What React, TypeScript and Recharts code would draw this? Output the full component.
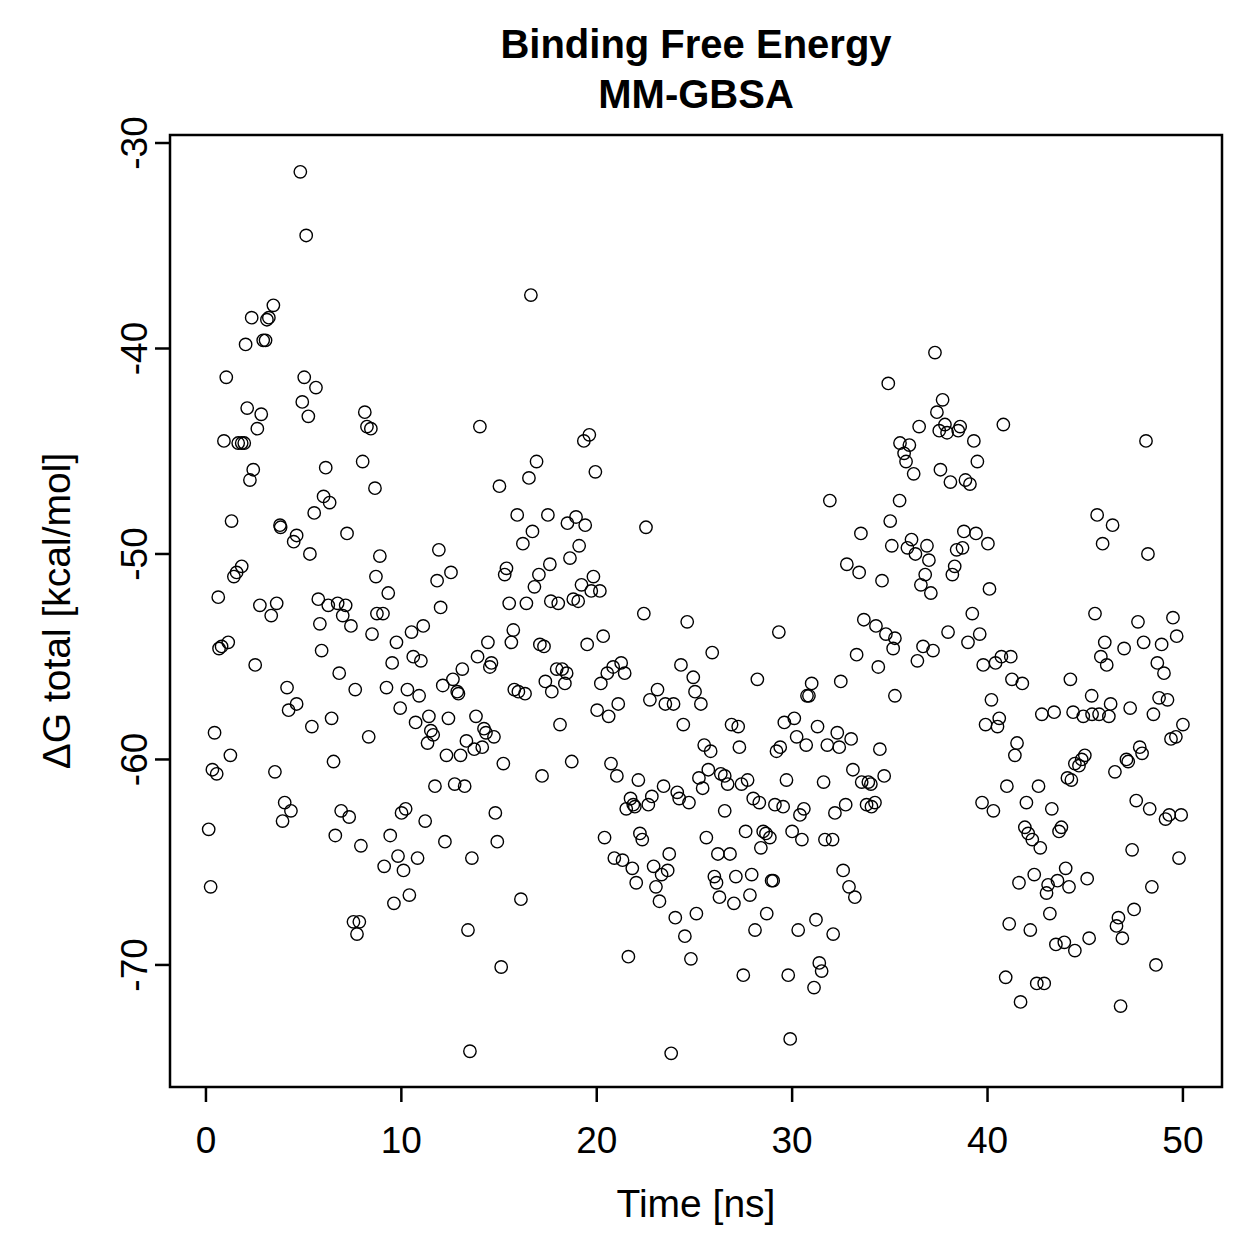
import React from 'react';
import { ScatterChart, Scatter, XAxis, YAxis, ReferenceArea } from 'recharts';

const timeNs = [
  0.14,0.24,0.33,0.44,0.55,0.63,0.67,0.80,0.92,1.04,1.14,1.25,1.31,1.43,1.57,1.65,1.83,1.83,1.96,2.03,
  2.11,2.25,2.34,2.42,2.52,2.63,2.76,2.83,2.93,3.05,3.12,3.22,3.34,3.45,3.53,3.62,3.79,3.82,3.92,4.03,
  4.15,4.23,4.35,4.49,4.64,4.64,4.83,4.93,5.03,5.13,5.24,5.32,5.42,5.54,5.63,5.75,5.83,5.92,6.02,6.13,
  6.26,6.33,6.43,6.53,6.62,6.74,6.82,6.92,7.00,7.15,7.22,7.33,7.42,7.55,7.64,7.73,7.85,7.93,8.02,8.13,
  8.24,8.33,8.44,8.50,8.65,8.70,8.75,8.90,9.06,
  9.12,9.24,9.33,9.43,9.53,9.62,9.75,9.83,9.94,10.01,10.11,10.22,10.31,10.41,10.52,10.61,10.73,10.83,10.91,11.00,
  11.12,11.22,11.34,11.41,11.51,11.63,11.72,11.83,11.92,12.01,12.12,12.23,12.31,12.41,12.54,12.64,12.73,12.86,12.92,13.03,
  13.12,13.24,13.33,13.41,13.51,13.61,13.73,13.82,13.90,14.02,14.14,14.23,14.33,14.43,14.53,14.61,14.74,14.81,14.91,15.02,
  15.11,15.22,15.29,15.38,15.52,15.63,15.73,15.78,15.93,15.99,16.12,16.22,16.33,16.40,16.53,16.63,16.71,16.81,16.92,17.04,
  17.09,17.20,17.30,17.37,17.50,17.60,17.70,17.65,
  17.95,18.03,18.12,18.23,18.37,18.46,18.50,18.63,18.72,18.80,18.94,19.05,19.10,19.22,19.34,19.41,19.51,19.62,19.72,19.83,
  19.93,20.02,20.16,20.21,20.33,20.40,20.54,20.61,20.73,20.84,20.90,21.03,21.10,21.25,21.32,21.43,21.51,21.62,21.73,21.82,
  21.87,21.95,22.02,22.13,22.21,22.33,22.41,22.52,22.64,22.72,22.82,22.91,23.03,23.11,23.21,23.32,23.42,23.51,23.63,23.71,
  23.81,23.93,24.02,24.12,24.22,24.31,24.43,24.51,24.63,24.72,24.82,24.94,25.03,25.10,25.23,25.33,25.42,25.50,25.61,25.71,
  25.83,25.91,26.02,26.13,26.20,26.28,26.35,26.55,26.70,26.55,26.82,26.90,27.02,27.12,27.24,27.30,27.41,27.50,27.62,27.72,
  27.84,27.93,28.01,28.10,28.22,28.32,28.40,28.52,28.66,28.70,28.86,28.95,29.03,29.12,29.20,29.32,29.39,29.54,29.60,29.71,
  29.80,29.90,30.00,30.11,30.23,30.31,30.40,30.50,30.60,30.72,30.76,30.86,31.00,31.12,31.22,31.30,31.39,31.51,31.61,31.68,
  31.80,31.93,32.07,32.10,32.19,32.31,32.41,32.49,32.61,32.74,32.80,32.91,33.02,33.11,33.21,33.30,33.43,33.52,33.56,33.67,
  33.81,33.90,34.03,34.06,34.24,34.29,34.41,34.49,34.60,34.71,34.80,34.92,35.02,35.10,35.17,35.26,35.26,35.50,35.52,35.73,
  35.83,35.90,36.00,36.11,36.22,36.31,36.41,36.50,36.59,36.70,36.81,36.90,37.00,37.10,37.21,37.31,37.41,37.53,37.59,37.70,
  37.82,37.93,37.98,38.10,38.20,38.32,38.42,38.50,38.60,38.72,38.79,38.87,39.00,39.10,39.22,39.30,39.41,39.48,39.60,39.72,
  39.78,39.90,40.02,40.10,40.20,40.30,40.41,40.51,40.60,40.71,40.81,40.93,40.99,41.11,41.19,41.25,41.40,41.51,41.61,41.69,
  41.78,41.91,41.99,42.08,42.19,42.29,42.39,42.52,42.61,42.70,42.78,42.90,43.02,43.10,43.19,43.29,43.41,43.50,43.58,43.66,
  43.78,43.93,44.00,44.09,44.17,44.24,44.29,44.38,44.47,44.47,44.68,44.82,44.90,44.98,45.10,45.20,45.33,45.35,45.50,45.61,
  45.71,45.80,45.89,46.00,46.10,46.21,46.30,46.40,46.52,46.60,46.70,46.81,46.90,46.99,47.11,47.20,47.30,47.40,47.50,47.61,
  47.70,47.79,47.91,47.99,48.11,48.21,48.30,48.41,48.49,48.62,48.69,48.78,48.91,49.03,49.11,49.21,49.30,49.39,49.49,49.64,
  49.68,49.80,49.91,50.00
];

const deltaG = [
  -63.4,-66.2,-60.5,-58.7,-60.7,-52.1,-54.6,-54.5,-44.5,-41.4,-54.3,-59.8,-48.4,-51.1,-50.9,-44.6,-44.6,-50.6,-44.6,-39.8,
  -42.9,-46.4,-38.5,-45.9,-55.4,-43.9,-52.5,-43.2,-39.6,-39.6,-38.6,-38.5,-53.0,-37.9,-60.6,-52.4,-48.6,-48.7,-63.0,-62.1,
  -56.5,-57.6,-62.5,-49.4,-49.1,-57.3,-31.4,-42.6,-41.4,-34.5,-43.3,-50.0,-58.4,-48.0,-41.9,-52.2,-53.4,-54.7,-47.2,-45.8,
  -52.5,-47.5,-58.0,-60.1,-63.7,-52.4,-55.8,-62.5,-53.0,-52.5,-49.0,-62.8,-53.5,-67.9,-56.6,-68.5,-67.9,-64.2,-45.5,-43.1,
  -43.8,-58.9,-43.9,-53.9,-46.8,-51.1,-52.9,-50.1,-52.9,
  -65.2,-56.5,-51.9,-63.7,-55.3,-67.0,-54.3,-64.7,-57.5,-62.6,-65.4,-62.4,-56.6,-66.6,-53.8,-55.0,-58.2,-64.8,-56.9,-55.2,
  -53.5,-63.0,-59.2,-57.9,-58.6,-58.8,-61.3,-51.3,-49.8,-52.6,-56.4,-64.0,-59.8,-58.0,-50.9,-56.1,-61.2,-56.7,-56.8,-59.8,
  -55.6,-61.3,-59.1,-68.3,-74.2,-64.8,-59.5,-57.9,-55.0,-43.8,-59.4,-58.5,-58.7,-54.3,-55.5,-55.3,-58.9,-62.6,-64.0,-46.7,
  -70.1,-60.2,-51.0,-50.7,-52.4,-54.3,-53.7,-56.6,-48.1,-56.7,-66.8,-49.5,-56.8,-52.4,-46.3,-37.4,-48.9,-51.6,-45.5,-51.0,
  -54.4,-60.8,-54.5,-56.2,-48.1,-50.5,-56.7,-52.3,
  -55.6,-52.4,-58.3,-55.6,-56.3,-55.8,-48.5,-50.2,-60.1,-52.2,-48.2,-52.3,-49.6,-51.5,-44.5,-48.6,-54.4,-44.2,-51.8,-51.1,
  -46.0,-57.6,-51.8,-56.3,-54.0,-63.8,-55.8,-57.9,-60.2,-55.5,-64.8,-60.8,-57.3,-55.3,-64.9,-55.8,-62.4,-69.6,-61.9,-65.3,
  -62.2,-62.3,-66.0,-61.0,-63.6,-63.9,-52.9,-48.7,-62.2,-57.1,-61.8,-65.2,-66.2,-56.6,-66.9,-65.6,-61.3,-57.3,-65.4,-64.6,
  -74.3,-57.3,-67.7,-61.6,-61.9,-55.4,-58.3,-68.6,-53.3,-62.1,-69.7,-56.0,-56.7,-67.5,-60.9,-57.3,-61.4,-59.3,-63.8,-60.5,
  -59.6,-54.8,-65.7,-66.0,-64.6,-66.7,-60.7,-60.8,-61.2,-62.5,-64.6,-58.3,-67.0,-65.7,-58.4,-59.4,-61.2,-70.5,-63.5,-61.0,
  -66.6,-65.6,-61.9,-68.3,-56.1,-62.1,-64.3,-63.5,-63.6,-67.5,-63.8,-65.9,-65.9,-62.2,-59.6,-53.8,-59.4,-62.3,-58.2,-61.0,
  -70.5,-73.6,-63.5,-58.0,-58.9,-68.3,-62.7,-63.9,-62.4,-59.3,-56.9,-56.9,-56.3,-71.1,-67.8,-58.4,-69.9,-70.3,-61.1,-63.9,
  -59.3,-47.4,-63.9,-68.5,-62.6,-58.7,-59.4,-56.2,-65.4,-62.2,-50.5,-66.2,-59.0,-60.5,-66.7,-54.9,-50.9,-49.0,-61.1,-53.2,
  -62.2,-61.1,-61.2,-62.3,-62.1,-53.5,-55.5,-59.5,-51.3,-60.8,-53.9,-41.7,-48.4,-49.6,-54.6,-54.1,-56.9,-47.4,-44.6,-45.1,
  -45.5,-49.7,-44.7,-49.3,-46.1,-50.0,-55.2,-43.8,-51.5,-54.5,-51.0,-49.6,-50.3,-51.9,-54.7,-40.2,-43.1,-44.0,-45.9,-42.5,
  -43.7,-44.1,-53.8,-46.5,-51.0,-50.6,-49.8,-44.0,-43.8,-49.7,-48.9,-46.4,-54.3,-46.6,-52.9,-44.5,-49.0,-45.5,-53.9,-62.1,
  -55.4,-58.3,-49.5,-51.7,-57.1,-62.5,-55.3,-58.4,-58.0,-55.0,-43.7,-70.6,-61.3,-68.0,-55.0,-56.1,-59.8,-59.2,-66.0,-71.8,
  -56.3,-63.3,-62.1,-63.6,-68.3,-63.9,-65.6,-70.9,-61.3,-64.3,-57.8,-70.9,-66.5,-66.1,-67.5,-62.4,-57.7,-69.0,-65.9,-63.5,
  -63.3,-68.9,-65.3,-60.9,-66.2,-56.1,-61.0,-57.7,-60.2,-69.3,-60.3,-60.0,-57.9,-59.8,-65.8,-68.7,-56.9,-57.8,-52.9,-48.1,
  -57.8,-55.0,-49.5,-54.3,-55.4,-57.9,-57.3,-48.6,-60.6,-68.1,-67.7,-72.0,-68.7,-54.6,-60.0,-60.1,-57.5,-64.4,-67.3,-62.0,
  -53.3,-59.4,-59.7,-54.3,-44.5,-50.0,-62.4,-66.2,-57.8,-70.0,-55.3,-57.0,-54.4,-55.8,-62.9,-57.1,-62.7,-59.0,-53.1,-58.9,
  -54.0,-64.8,-62.7,-58.3
];

const xTicks = [0, 10, 20, 30, 40, 50];
const yTicks = [-30, -40, -50, -60, -70];
const xDomain = [-1.84, 52.0];
const yDomain = [-75.94, -29.61];

const data = timeNs.map((t, i) => ({ t, g: deltaG[i] }));

const FONT = '"Liberation Sans", Arial, Helvetica, sans-serif';
const TICK_FS = 37;
const LAB_FS = 39;

const Ring = (props: any) => {
  const { cx, cy } = props;
  if (cx == null || cy == null) return null;
  return <circle cx={cx} cy={cy} r={6.2} fill="none" stroke="#000" strokeWidth={1.4} />;
};

const XTick = (props: any) => {
  const { x, y, payload } = props;
  return (
    <text x={x} y={y} dy={49} textAnchor="middle" fontSize={TICK_FS} fontFamily={FONT} fill="#000">
      {payload.value}
    </text>
  );
};

const YTick = (props: any) => {
  const { x, y, payload } = props;
  return (
    <text
      transform={`translate(${x - 6},${y}) rotate(-90)`}
      textAnchor="middle"
      fontSize={TICK_FS}
      fontFamily={FONT}
      fill="#000"
    >
      {String(payload.value)}
    </text>
  );
};

export default function App() {
  return (
    <div style={{ position: 'absolute', left: 0, top: 0, width: 1259, height: 1259, background: '#fff' }}>
      <svg width={1259} height={130} style={{ position: 'absolute', left: 0, top: 0 }}>
        <text x={696} y={58} textAnchor="middle" fontSize={40} fontWeight="bold" fontFamily={FONT} fill="#000">
          Binding Free Energy
        </text>
        <text x={696} y={108} textAnchor="middle" fontSize={40} fontWeight="bold" fontFamily={FONT} fill="#000">
          MM-GBSA
        </text>
      </svg>
      <ScatterChart
        width={1259}
        height={1259}
        margin={{ top: 135, right: 37, bottom: 0, left: 0 }}
        style={{ position: 'absolute', left: 0, top: 0, fontFamily: FONT }}
      >
        <XAxis
          type="number"
          dataKey="t"
          domain={xDomain}
          ticks={xTicks}
          allowDataOverflow
          height={172}
          axisLine={false}
          tickLine={{ stroke: '#000', strokeWidth: 2.5 }}
          tickSize={15}
          tick={<XTick />}
          label={(p: any) => {
            const vb = p.viewBox || {};
            return (
              <text x={vb.x + vb.width / 2} y={1217} textAnchor="middle" fontSize={LAB_FS} fontFamily={FONT} fill="#000">
                Time [ns]
              </text>
            );
          }}
        />
        <YAxis
          type="number"
          dataKey="g"
          domain={yDomain}
          ticks={yTicks}
          allowDataOverflow
          width={170}
          axisLine={false}
          tickLine={{ stroke: '#000', strokeWidth: 2.5 }}
          tickSize={15}
          tick={<YTick />}
          label={(p: any) => {
            const vb = p.viewBox || {};
            const cy = vb.y + vb.height / 2;
            return (
              <text
                transform={`translate(70,${cy}) rotate(-90)`}
                textAnchor="middle"
                fontSize={LAB_FS}
                fontFamily={FONT}
                fill="#000"
              >
                ΔG total [kcal/mol]
              </text>
            );
          }}
        />
        <ReferenceArea
          x1={xDomain[0]}
          x2={xDomain[1]}
          y1={yDomain[0]}
          y2={yDomain[1]}
          fill="none"
          stroke="#000"
          strokeWidth={2.5}
          fillOpacity={0}
          ifOverflow="visible"
        />
        <Scatter data={data} shape={<Ring />} isAnimationActive={false} />
      </ScatterChart>
    </div>
  );
}
